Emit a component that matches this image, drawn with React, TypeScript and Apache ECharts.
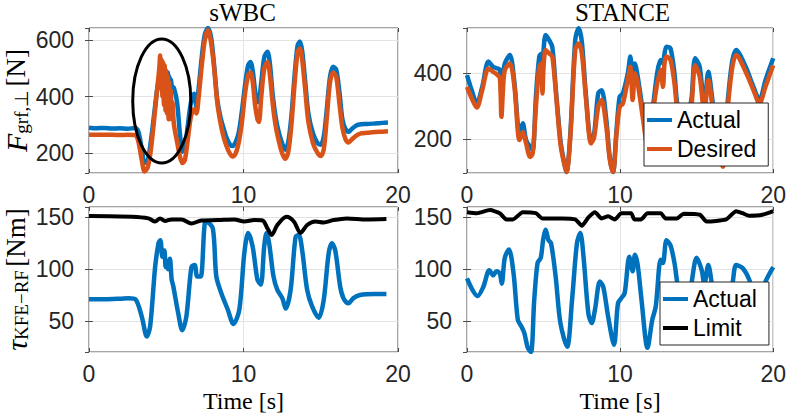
import React, { useEffect, useRef } from "react";
import * as echarts from "echarts";

// ---------- data ----------
const tSWBC = [
  0, 0.5, 1, 1.5, 2, 2.5, 3, 3.2, 3.4, 3.6,
  3.8, 4.0, 4.2, 4.4, 4.55, 4.6, 4.65, 4.7, 4.75, 4.8, 4.85, 4.9, 4.95, 5.0,
  5.05, 5.1, 5.15, 5.2, 5.25, 5.3, 5.35, 5.4, 5.5, 5.7, 5.9, 6.05, 6.2, 6.4, 6.6,
  6.8, 6.95, 7.1, 7.3, 7.5, 7.7, 7.9, 8.1, 8.3, 8.5,
  8.7, 8.9, 9.1, 9.3, 9.5, 9.7, 9.9, 10.1, 10.3, 10.45,
  10.6, 10.75, 10.9, 11.0, 11.15, 11.35, 11.55, 11.7, 11.9, 12.1,
  12.3, 12.5, 12.7, 12.9, 13.1, 13.3, 13.5, 13.65, 13.8, 14.0,
  14.2, 14.5, 14.8, 15.0, 15.2, 15.4, 15.6, 15.8, 16.0, 16.2,
  16.4, 16.6, 16.8, 17.0, 17.3, 17.6, 18.0, 18.5, 19.0, 19.35,
];
const fActualSWBC = [
  290, 288, 289, 287, 288, 286, 289, 275, 220, 165,
  175, 240, 330, 420, 470, 490, 480, 495, 480, 500, 475, 495, 470, 490,
  465, 485, 455, 470, 450, 460, 440, 435, 430, 380, 260, 205, 220, 300, 380,
  410, 365, 430, 540, 620, 642, 610, 510, 390, 330,
  290, 255, 232, 225, 240, 275, 350, 440, 510, 522,
  490, 420, 380, 385, 450, 540, 558, 520, 400, 320,
  270, 235, 212, 240, 330, 470, 580, 594, 560, 450,
  340, 270, 235, 230, 260, 360, 470, 505, 495, 420,
  320, 285, 275, 285, 298, 302, 303, 305, 307, 308,
];
const fDesiredSWBC = [
  265, 265, 265, 265, 264, 265, 264, 240, 180, 135,
  150, 210, 310, 420, 500, 545, 430, 530, 400, 520, 370, 510, 350, 490,
  340, 470, 320, 450, 330, 420, 320, 380, 300, 240, 185, 165, 175, 250, 330,
  355, 340, 400, 510, 600, 635, 590, 500, 380, 310,
  260, 225, 200, 188, 200, 240, 310, 410, 475, 485,
  450, 370, 320, 310, 400, 500, 522, 480, 370, 290,
  240, 200, 180, 205, 300, 440, 555, 570, 530, 420,
  310, 235, 200, 190, 215, 330, 450, 485, 470, 380,
  290, 250, 238, 248, 262, 270, 272, 275, 276, 277,
];

const tStanceF = [
  0, 0.3, 0.64, 1.0, 1.4, 1.7, 2.0, 2.15, 2.25, 2.35,
  2.47, 2.8, 3.1, 3.43, 3.64, 3.86, 4.12, 4.29, 4.5, 4.72,
  4.85, 4.93, 5.0, 5.14, 5.36, 5.57, 5.79, 6.1, 6.3, 6.5,
  6.75, 7.07, 7.29, 7.5, 7.76, 8.1, 8.3, 8.57, 8.79, 9.1,
  9.32, 9.54, 9.75, 9.97, 10.18, 10.5, 10.67, 10.82, 10.97, 11.15,
  11.5, 11.9, 12.2, 12.65, 12.8, 12.9, 13.03, 13.29, 13.55, 13.7,
  14.1, 14.5, 14.68, 14.9, 15.2, 15.5, 15.76, 16.0, 16.3, 16.7,
  17.0, 17.3, 17.58, 18.2, 18.7, 19.1, 19.5, 20,
];
const fActualStance = [
  395, 350, 309, 360, 436, 420, 415, 410, 330, 390,
  430, 456, 370, 217, 248, 197, 177, 166, 329, 451,
  460, 398, 470, 517, 502, 481, 359, 197, 140, 100,
  217, 502, 537, 496, 339, 197, 215, 339, 349, 258,
  146, 100, 217, 329, 339, 400, 451, 370, 430, 390,
  280, 160, 320, 441, 430, 460, 481, 476, 400, 320,
  190, 280, 330, 446, 420, 300, 405, 330, 200, 130,
  300, 430, 471, 420, 360, 319, 380, 446,
];
const fDesiredStance = [
  359, 325, 296, 350, 415, 405, 395, 385, 268, 350,
  410, 430, 359, 197, 222, 187, 146, 156, 297, 420,
  430, 339, 420, 471, 461, 451, 349, 187, 135, 100,
  207, 471, 491, 461, 329, 187, 205, 298, 319, 238,
  140, 100, 207, 298, 308, 380, 420, 319, 400, 370,
  260, 140, 300, 410, 359, 430, 451, 441, 370, 300,
  170, 260, 310, 425, 390, 280, 380, 310, 180, 116,
  280, 410, 456, 405, 350, 309, 360, 425,
];

const tSWBCTau = [
  0, 1, 2, 2.57, 3.0, 3.42, 3.74, 3.96, 4.28, 4.5,
  4.62, 4.75, 4.88, 4.96, 5.05, 5.13, 5.24, 5.35, 5.45, 5.78,
  6.03, 6.3, 6.63, 6.84, 7.0, 7.23, 7.49, 7.66, 8.02, 8.24,
  8.56, 8.98, 9.35, 9.73, 10.05, 10.3, 10.59, 10.9, 11.12, 11.34,
  11.49, 11.66, 11.94, 12.19, 12.51, 12.73, 13.05, 13.37, 13.58, 13.8,
  14.12, 14.44, 14.87, 15.19, 15.51, 15.72, 15.94, 16.26, 16.47, 16.79,
  17.11, 17.54, 18.5, 19.25,
];
const tauActualSWBC = [
  71, 71, 71.5, 72, 71, 54, 35, 45, 102, 125,
  128, 112, 118, 102, 108, 100, 110, 90, 84, 57,
  41, 54, 102, 104, 93, 93, 144, 145, 139, 93,
  77, 61, 47, 61, 115, 135, 122, 90, 85, 122,
  135, 125, 93, 80, 72, 62, 80, 131, 133, 118,
  80, 64, 53, 70, 115, 125, 118, 83, 72, 67,
  72, 75, 76, 76,
];
const tSWBCLimit = [
  0, 2.78, 3.85, 4.28, 4.6, 4.92, 5.35, 5.99, 6.63, 7.27,
  8.34, 9.41, 10.05, 10.7, 11.23, 11.55, 11.83, 12.19, 12.78, 13.26,
  13.69, 14.12, 14.65, 15.19, 15.83, 16.68, 17.97, 19.25,
];
const tauLimitSWBC = [
  151.3, 150.6, 149, 146, 149, 146.5, 148, 148, 144, 147,
  147.4, 148, 146, 147.4, 147, 139.4, 133, 142.6, 150.6, 146,
  135, 142.6, 146, 145, 147.4, 149, 148, 148.4,
];

const tStanceTau = [
  0, 0.69, 1.07, 1.46, 1.71, 1.93, 2.14, 2.27, 2.47, 2.74,
  3.04, 3.32, 3.54, 3.75, 3.97, 4.18, 4.39, 4.61, 4.82, 4.97,
  5.14, 5.32, 5.49, 5.79, 6.1, 6.54, 6.86, 7.18, 7.4, 7.61,
  7.93, 8.15, 8.36, 8.68, 8.9, 9.22, 9.6, 9.86, 10.08, 10.3,
  10.6, 10.82, 10.97, 11.15, 11.4, 11.79, 12.1, 12.33, 12.65, 12.8,
  13.03, 13.29, 13.55, 13.72, 14.2, 14.68, 15.0, 15.33, 15.5, 15.76,
  15.97, 16.6, 17.36, 17.58, 18.0, 18.43, 19.0, 19.5, 20,
];
const tauActualStance = [
  91, 74, 83, 99, 94, 98, 96, 86, 111, 119,
  96, 51, 45, 38, 24, 20, 70, 106, 111, 128,
  138, 128, 125, 93, 48, 25, 70, 125, 135, 112,
  57, 48, 61, 88, 83, 54, 27, 67, 72, 77,
  112, 98, 114, 104, 70, 24, 51, 64, 109, 106,
  128, 123, 106, 88, 45, 88, 111, 99, 85, 104,
  88, 30, 88, 104, 101, 90, 65, 88, 102,
];
const tStanceLimit = [
  0, 0.64, 1.5, 2.14, 2.57, 3.0, 3.64, 4.5, 4.93, 6.2,
  7.07, 7.5, 7.93, 8.36, 8.79, 9.22, 9.65, 10.08, 10.72, 10.93,
  11.36, 11.79, 12.65, 12.97, 13.72, 14.15, 15.22, 15.65, 16.93, 17.58,
  18.0, 18.43, 19.29, 20,
];
const tauLimitStance = [
  155, 154, 157, 154, 148, 148, 155, 154, 149, 149,
  148, 142, 150, 155, 149, 151, 148, 154, 154, 148,
  148, 154, 154, 149, 149, 153.5, 152.5, 146, 148, 156,
  154, 151.6, 152.5, 156,
];

const titles = ["sWBC", "STANCE"];
const xTicks = { min: 0, max: 20, interval: 10 };
const yRanges = [
  [130, 642],
  [97, 538],
  [20, 160],
  [20, 160],
];
const ySplits = [3, 2, 3, 3];
// highlighted region (ellipse) in sWBC force plot: centre and half-extents
const ellipseCentre = [4.71, 384];
const ellipseHalf = [1.88, 219];

// ---------- styling ----------
const BLUE = "#0072BD";
const ORANGE = "#D95319";
const AX = "#262626";
const BOX = "#4a4a4a";
const SANS = "'Liberation Sans', Arial, Helvetica, sans-serif";
const SERIF = "'Liberation Serif', 'Times New Roman', serif";

const grids = [
  { left: 87, top: 28, width: 311, height: 145 },
  { left: 467, top: 28, width: 311, height: 145 },
  { left: 87, top: 207, width: 311, height: 145 },
  { left: 467, top: 207, width: 311, height: 145 },
];

const zip = (t: number[], v: number[]) => t.map((x, i) => [x, v[i]]);

const nameRich = {
  it: { fontFamily: SERIF, fontStyle: "italic", fontSize: 30, color: "#000", lineHeight: 30 },
  sub: { fontFamily: SERIF, fontSize: 19, color: "#000", lineHeight: 17, verticalAlign: "bottom" },
  n: { fontFamily: SERIF, fontSize: 27, color: "#000", lineHeight: 30 },
};

export default function App() {
  const ref = useRef<HTMLDivElement>(null);
  useEffect(() => {
    const chart = echarts.init(ref.current!, null, { renderer: "svg" });

    const xAxes: any[] = [];
    const yAxes: any[] = [];
    for (let i = 0; i < 4; i++) {
      xAxes.push({
        type: "value",
        gridIndex: i,
        ...xTicks,
        axisLine: { show: false },
        axisTick: { inside: true, length: 4, lineStyle: { color: BOX } },
        axisLabel: { color: AX, fontSize: 23, fontFamily: SANS, margin: 10, showMinLabel: true, showMaxLabel: true },
        splitLine: { show: true, lineStyle: { color: "#e3e3e3", width: 1 } },
        name: i >= 2 ? "Time [s]" : "",
        nameLocation: "middle",
        nameGap: 37,
        nameTextStyle: { fontFamily: SERIF, fontSize: 24, color: "#000" },
      });
      yAxes.push({
        type: "value",
        gridIndex: i,
        min: yRanges[i][0],
        max: yRanges[i][1],
        splitNumber: ySplits[i],
        axisLine: { show: false },
        axisTick: { inside: true, length: 4, lineStyle: { color: BOX } },
        axisLabel: { color: AX, fontSize: 23, fontFamily: SANS, margin: 15, showMinLabel: false, showMaxLabel: false },
        splitLine: { show: true, lineStyle: { color: "#e3e3e3", width: 1 } },
        name: i === 0 ? "{it|F}{sub|grf,⊥} {n|[N]}" : i === 2 ? "{it|τ}{sub|KFE−RF} {n|[Nm]}" : "",
        nameLocation: "middle",
        nameRotate: 90,
        nameGap: 58,
        nameTextStyle: { rich: nameRich },
      });
    }
    // mirrored ticks on top / right (box on)
    for (let i = 0; i < 4; i++) {
      xAxes.push({
        type: "value",
        gridIndex: i,
        position: "top",
        ...xTicks,
        axisLine: { show: false },
        axisTick: { inside: true, length: 4, lineStyle: { color: BOX } },
        axisLabel: { show: false },
        splitLine: { show: false },
      });
      yAxes.push({
        type: "value",
        gridIndex: i,
        position: "right",
        min: yRanges[i][0],
        max: yRanges[i][1],
        splitNumber: ySplits[i],
        axisLine: { show: false },
        axisTick: { inside: true, length: 4, lineStyle: { color: BOX } },
        axisLabel: { show: false },
        splitLine: { show: false },
      });
    }

    const line = (name: string, idx: number, data: number[][], color: string, width: number, smooth: number) => ({
      type: "line",
      name,
      xAxisIndex: idx,
      yAxisIndex: idx,
      data,
      showSymbol: false,
      symbol: "none",
      smooth,
      color,
      itemStyle: { color },
      lineStyle: { color, width },
      emphasis: { disabled: true },
    });

    const legendBase = {
      orient: "vertical",
      icon: "rect",
      itemWidth: 25,
      itemHeight: 4,
      itemGap: 3,
      selectedMode: false,
      borderColor: AX,
      borderWidth: 1,
      borderRadius: 0,
      backgroundColor: "#fff",
      textStyle: { fontFamily: SANS, fontSize: 23, color: "#000", lineHeight: 26 },
    };

    const option: any = {
      animation: false,
      backgroundColor: "#fff",
      title: titles.map((t, i) => ({
        text: t,
        left: grids[i].left + grids[i].width / 2,
        top: 0,
        textAlign: "center",
        padding: 0,
        textStyle: { fontFamily: SERIF, fontSize: 25, fontWeight: "normal", color: "#000" },
      })),
      grid: grids.map((g) => ({ ...g, show: true, borderColor: BOX, borderWidth: 1, backgroundColor: "transparent" })),
      xAxis: xAxes,
      yAxis: yAxes,
      legend: [
        { ...legendBase, data: ["Actual", "Desired"], left: 644, top: 103, padding: [4, 12, 4, 3] },
        { ...legendBase, data: ["Actual", "Limit"], left: 660, top: 282, padding: [4, 12, 4, 3] },
      ],
      series: [
        line("Actual", 0, zip(tSWBC, fActualSWBC), BLUE, 4.5, 0.3),
        line("Desired", 0, zip(tSWBC, fDesiredSWBC), ORANGE, 4.5, 0.3),
        line("Actual", 1, zip(tStanceF, fActualStance), BLUE, 4.5, 0.3),
        line("Desired", 1, zip(tStanceF, fDesiredStance), ORANGE, 4.5, 0.3),
        line("Actual", 2, zip(tSWBCTau, tauActualSWBC), BLUE, 4.5, 0.3),
        line("Limit", 2, zip(tSWBCLimit, tauLimitSWBC), "#000", 4, 0.3),
        line("Actual", 3, zip(tStanceTau, tauActualStance), BLUE, 4.5, 0.3),
        line("Limit", 3, zip(tStanceLimit, tauLimitStance), "#000", 4, 0.2),
      ],
    };
    chart.setOption(option);

    const c = chart.convertToPixel({ xAxisIndex: 0, yAxisIndex: 0 }, ellipseCentre) as number[];
    const e = chart.convertToPixel({ xAxisIndex: 0, yAxisIndex: 0 }, [
      ellipseCentre[0] + ellipseHalf[0],
      ellipseCentre[1] + ellipseHalf[1],
    ]) as number[];
    chart.setOption({
      graphic: [
        {
          type: "ellipse",
          z: 100,
          shape: { cx: c[0], cy: c[1], rx: Math.abs(e[0] - c[0]), ry: Math.abs(c[1] - e[1]) },
          style: { fill: "none", stroke: "#000", lineWidth: 3 },
        },
      ],
    });

    return () => chart.dispose();
  }, []);
  return (
    <div
      ref={ref}
      style={{ position: "fixed", left: 0, top: 0, width: 789, height: 419, background: "#fff" }}
    />
  );
}
